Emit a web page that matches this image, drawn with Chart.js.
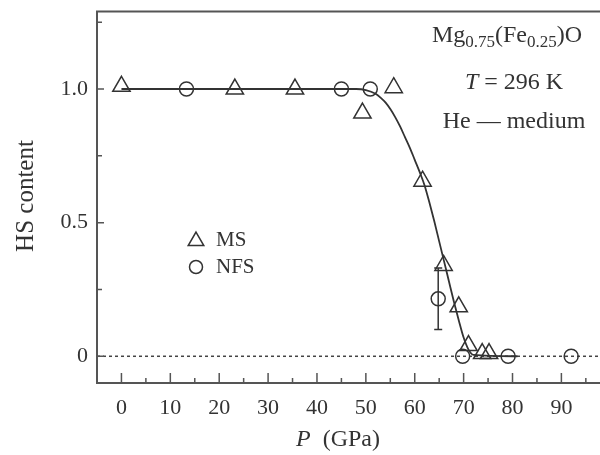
<!DOCTYPE html>
<html>
<head>
<meta charset="utf-8">
<script src="https://cdn.jsdelivr.net/npm/chart.js@4.4.1/dist/chart.umd.min.js"></script>
<style>
    html, body { margin: 0; padding: 0; background: #fff; overflow: hidden; }
    #wrap { width: 612px; height: 455px; }
</style>
</head>
<body>
<div id="wrap"><canvas id="chart"></canvas></div>
<script>
// MS points (triangles)
const msPressure = [0, 23.2, 35.5, 49.3, 55.7, 61.6, 65.9, 69.0, 71.0, 73.8, 75.2];
const msContent  = [1.01, 1.0, 1.0, 0.91, 1.005, 0.655, 0.34, 0.185, 0.04, 0.01, 0.01];

// NFS points (circles)
const nfsPressure = [13.3, 45.0, 50.9, 64.8, 69.8, 79.1, 92.0];
const nfsContent  = [1.0, 1.0, 1.0, 0.215, 0.0, 0.0, 0.0];
const nfsError    = [0, 0, 0, 0.115, 0, 0, 0];

// Fitted curve
const fitPressure = [0, 48, 50, 52, 53, 54, 55, 56, 57, 58, 59, 60, 61, 62, 63, 64, 65, 66, 67, 68, 69, 70, 71, 72, 81];
const fitContent  = [1.0, 1.0, 0.996, 0.982, 0.968, 0.95, 0.925, 0.895, 0.86, 0.82, 0.78, 0.735, 0.69, 0.64, 0.575, 0.505, 0.43, 0.355, 0.28, 0.205, 0.135, 0.07, 0.025, 0.005, 0];

// Tick values
const xTicks = [0, 10, 20, 30, 40, 50, 60, 70, 80, 90];
const xMinorTicks = [-5, 5, 15, 25, 35, 45, 55, 65, 75, 85, 95];
const yTicks = [0, 0.5, 1.0];
const yMinorTicks = [0.25, 0.75, 1.25];

const INK = '#333';
const AXIS = '#555';
const SERIF = '"Liberation Serif", "DejaVu Serif", serif';

function toXY(xs, ys) {
    return xs.map((x, i) => ({ x: x, y: ys[i] }));
}

function drawTriangle(ctx, x, y, r) {
    ctx.beginPath();
    for (let k = 0; k < 3; k++) {
        const a = -Math.PI / 2 + k * 2 * Math.PI / 3;
        const px = x + r * Math.cos(a), py = y + r * Math.sin(a);
        if (k === 0) ctx.moveTo(px, py); else ctx.lineTo(px, py);
    }
    ctx.closePath();
    ctx.stroke();
}

// Draws axes, inward ticks, zero line, error bars, legend and labels
const decorPlugin = {
    id: 'decor',
    beforeDatasetsDraw(chart) {
        const { ctx, chartArea: a, scales: { x, y } } = chart;
        ctx.save();
        // dashed zero line
        ctx.strokeStyle = '#444';
        ctx.lineWidth = 1.5;
        ctx.setLineDash([3, 3]);
        ctx.beginPath();
        ctx.moveTo(a.left, y.getPixelForValue(0));
        ctx.lineTo(a.right, y.getPixelForValue(0));
        ctx.stroke();
        ctx.setLineDash([]);

        // error bars
        ctx.strokeStyle = INK;
        ctx.lineWidth = 1.5;
        nfsPressure.forEach((p, i) => {
            if (!nfsError[i]) return;
            const px = x.getPixelForValue(p);
            const top = y.getPixelForValue(nfsContent[i] + nfsError[i]);
            const bot = y.getPixelForValue(nfsContent[i] - nfsError[i]);
            ctx.beginPath();
            ctx.moveTo(px, top); ctx.lineTo(px, bot);
            ctx.moveTo(px - 4, top); ctx.lineTo(px + 4, top);
            ctx.moveTo(px - 4, bot); ctx.lineTo(px + 4, bot);
            ctx.stroke();
        });
        ctx.restore();
    },
    afterDraw(chart) {
        const { ctx, chartArea: a, scales: { x, y } } = chart;
        ctx.save();
        // frame: left, bottom, top
        ctx.strokeStyle = AXIS;
        ctx.lineWidth = 2;
        ctx.beginPath();
        ctx.moveTo(a.right, a.top);
        ctx.lineTo(a.left, a.top);
        ctx.lineTo(a.left, a.bottom);
        ctx.lineTo(a.right, a.bottom);
        ctx.stroke();

        // inward ticks
        ctx.lineWidth = 1.5;
        ctx.beginPath();
        xTicks.forEach(v => {
            const px = x.getPixelForValue(v);
            ctx.moveTo(px, a.bottom); ctx.lineTo(px, a.bottom - 10);
        });
        xMinorTicks.forEach(v => {
            const px = x.getPixelForValue(v);
            ctx.moveTo(px, a.bottom); ctx.lineTo(px, a.bottom - 5);
        });
        yTicks.forEach(v => {
            const py = y.getPixelForValue(v);
            ctx.moveTo(a.left, py); ctx.lineTo(a.left + 7, py);
        });
        yMinorTicks.forEach(v => {
            const py = y.getPixelForValue(v);
            ctx.moveTo(a.left, py); ctx.lineTo(a.left + 5, py);
        });
        ctx.stroke();

        ctx.fillStyle = INK;
        ctx.textBaseline = 'middle';

        // y title
        ctx.save();
        ctx.translate(26, 196);
        ctx.rotate(-Math.PI / 2);
        ctx.textAlign = 'center';
        ctx.font = '25px ' + SERIF;
        ctx.fillText('HS content', 0, 0);
        ctx.restore();

        // x title: italic P + (GPa)
        ctx.textAlign = 'left';
        ctx.font = 'italic 24px ' + SERIF;
        const pW = ctx.measureText('P').width;
        ctx.font = '24px ' + SERIF;
        const restW = ctx.measureText('(GPa)').width;
        const gap = 12;
        let tx = 338 - (pW + gap + restW) / 2;
        ctx.font = 'italic 24px ' + SERIF;
        ctx.fillText('P', tx, 440);
        ctx.font = '24px ' + SERIF;
        ctx.fillText('(GPa)', tx + pW + gap, 440);

        // legend
        ctx.strokeStyle = INK;
        ctx.lineWidth = 1.5;
        drawTriangle(ctx, 196, 241, 9);
        ctx.beginPath();
        ctx.arc(196, 267, 6.5, 0, Math.PI * 2);
        ctx.stroke();
        ctx.font = '21px ' + SERIF;
        ctx.fillText('MS', 216, 240);
        ctx.fillText('NFS', 216, 267);

        // annotation: Mg0.75(Fe0.25)O
        const parts = [
            ['Mg', 24, 0], ['0.75', 17, 7], ['(Fe', 24, 0], ['0.25', 17, 7], [')O', 24, 0]
        ];
        let total = 0;
        parts.forEach(pt => { ctx.font = pt[1] + 'px ' + SERIF; total += ctx.measureText(pt[0]).width; });
        let ax = 507 - total / 2;
        parts.forEach(pt => {
            ctx.font = pt[1] + 'px ' + SERIF;
            ctx.fillText(pt[0], ax, 36 + pt[2]);
            ax += ctx.measureText(pt[0]).width;
        });

        // T = 296 K
        ctx.font = 'italic 24px ' + SERIF;
        const tW = ctx.measureText('T').width;
        ctx.font = '24px ' + SERIF;
        const tRest = ' = 296 K';
        const trW = ctx.measureText(tRest).width;
        ax = 514 - (tW + trW) / 2;
        ctx.font = 'italic 24px ' + SERIF;
        ctx.fillText('T', ax, 83);
        ctx.font = '24px ' + SERIF;
        ctx.fillText(tRest, ax + tW, 83);

        // He — medium
        ctx.textAlign = 'center';
        ctx.fillText('He \u2014 medium', 514, 122);
        ctx.restore();
    }
};

new Chart(document.getElementById('chart'), {
    type: 'scatter',
    data: {
        datasets: [
            {
                label: 'fit',
                type: 'line',
                data: toXY(fitPressure, fitContent),
                borderColor: INK,
                borderWidth: 1.8,
                pointRadius: 0,
                cubicInterpolationMode: 'monotone',
                fill: false
            },
            {
                label: 'MS',
                data: toXY(msPressure, msContent),
                pointStyle: 'triangle',
                pointRadius: 10,
                borderColor: INK,
                borderWidth: 1.5,
                backgroundColor: 'rgba(0,0,0,0)'
            },
            {
                label: 'NFS',
                data: toXY(nfsPressure, nfsContent),
                pointStyle: 'circle',
                pointRadius: 7,
                borderColor: INK,
                borderWidth: 1.5,
                backgroundColor: 'rgba(0,0,0,0)'
            }
        ]
    },
    options: {
        responsive: true,
        maintainAspectRatio: false,
        animation: false,
        layout: { padding: { top: 11, right: 0, left: 0, bottom: 0 } },
        plugins: {
            legend: { display: false },
            tooltip: { enabled: false }
        },
        scales: {
            x: {
                type: 'linear',
                min: -5,
                max: 98,
                grid: { display: false, drawTicks: false },
                border: { display: false },
                afterBuildTicks: s => { s.ticks = xTicks.map(v => ({ value: v })); },
                afterFit: s => { s.height = 72; },
                ticks: {
                    padding: 12,
                    color: INK,
                    font: { family: SERIF, size: 22 }
                }
            },
            y: {
                type: 'linear',
                min: -0.1,
                max: 1.29,
                grid: { display: false, drawTicks: false },
                border: { display: false },
                afterBuildTicks: s => { s.ticks = yTicks.map(v => ({ value: v })); },
                afterFit: s => { s.width = 97; s.paddingTop = 0; s.paddingBottom = 0; },
                ticks: {
                    padding: 9,
                    color: INK,
                    font: { family: SERIF, size: 22 },
                    callback: v => v === 0 ? '0' : v.toFixed(1)
                }
            }
        }
    },
    plugins: [decorPlugin]
});
</script>
</body>
</html>
